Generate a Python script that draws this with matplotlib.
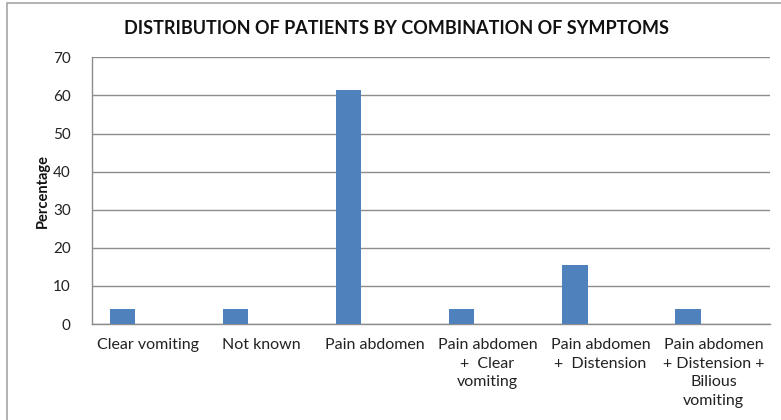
import matplotlib
matplotlib.use("Agg")
import matplotlib.pyplot as plt
from matplotlib.patches import Rectangle

categories = ["Clear vomiting", "Not known", "Pain abdomen",
              "Pain abdomen\n+  Clear\nvomiting",
              "Pain abdomen\n+  Distension",
              "Pain abdomen\n+ Distension +\nBilious\nvomiting"]
values = [3.85, 3.85, 61.5, 3.85, 15.4, 3.85]
yticks = [0, 10, 20, 30, 40, 50, 60, 70]

plt.rcParams['font.family'] = ['Lato', 'DejaVu Sans']

fig = plt.figure(figsize=(7.81, 4.20), dpi=100)
ax = fig.add_axes([91.7/781, 1-324/420, (770-91.7)/781, (324-57.3)/420])

x = list(range(len(categories)))
ax.bar([i - 0.226 for i in x], values, width=0.224, color='#4F81BD', zorder=3)

ax.set_xlim(-0.5, len(categories) - 0.5)
ax.set_ylim(0, 70)
ax.set_yticks(yticks)
ax.set_yticklabels([str(t) for t in yticks], fontsize=11, color='#222222')
ax.set_xticks(x)
ax.set_xticklabels(categories, fontsize=11.5, color='#222222', linespacing=1.42, va='top')
ax.tick_params(axis='both', length=0)
ax.tick_params(axis='x', pad=10)
ax.tick_params(axis='y', pad=15)
ax.yaxis.grid(True, color='#8C8C8C', linewidth=1.0, zorder=0)
for s in ['top', 'right']:
    ax.spines[s].set_visible(False)
for s in ['left', 'bottom']:
    ax.spines[s].set_color('#8C8C8C')
    ax.spines[s].set_linewidth(1.0)

ax.set_ylabel('Percentage', fontsize=10.5, fontweight='bold', color='#111111', labelpad=2)

fig.text(397/781, 1-28/420, 'DISTRIBUTION OF PATIENTS BY COMBINATION OF SYMPTOMS',
         ha='center', va='center', fontsize=13, fontweight='bold', color='#111111')

# chart border
fig.patches.append(Rectangle((7/781, -0.05), 1.2, 1 - 3/420 + 0.05, transform=fig.transFigure,
                             fill=False, edgecolor='#A6A6A6', linewidth=1.2))

fig.savefig('out.png', dpi=100)
